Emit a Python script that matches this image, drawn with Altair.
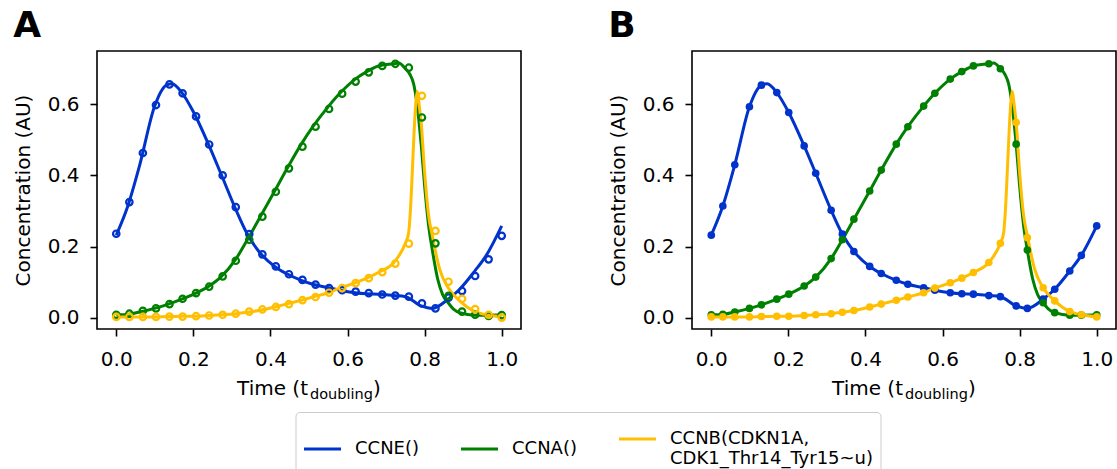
import altair as alt
import pandas as pd

# ---------------- data ----------------
species = ["CCNE()", "CCNA()", "CCNB(CDKN1A,|  CDK1_Thr14_Tyr15~u)"]
colors = ["#0033cc", "#008000", "#ffbf00"]

# Panel A markers (uniform sampling)
tA = [0.000, 0.034, 0.069, 0.103, 0.138, 0.172, 0.207, 0.241, 0.276, 0.310,
      0.345, 0.379, 0.414, 0.448, 0.483, 0.517, 0.552, 0.586, 0.621, 0.655,
      0.690, 0.724, 0.759, 0.793, 0.828, 0.862, 0.897, 0.931, 0.966, 1.000]
ccne_A = [0.236, 0.325, 0.463, 0.598, 0.656, 0.631, 0.566, 0.487, 0.400, 0.311,
          0.235, 0.178, 0.144, 0.122, 0.106, 0.093, 0.083, 0.077, 0.073, 0.069,
          0.065, 0.062, 0.059, 0.040, 0.026, 0.056, 0.075, 0.117, 0.164, 0.230]
ccna_A = [0.008, 0.011, 0.019, 0.026, 0.038, 0.053, 0.069, 0.087, 0.116, 0.160,
          0.219, 0.284, 0.354, 0.420, 0.481, 0.537, 0.587, 0.630, 0.664, 0.690,
          0.708, 0.714, 0.703, 0.563, 0.209, 0.061, 0.017, 0.008, 0.005, 0.007]
ccnb_A = [0.002, 0.002, 0.002, 0.002, 0.003, 0.003, 0.004, 0.006, 0.008, 0.011,
          0.017, 0.023, 0.030, 0.038, 0.049, 0.058, 0.070, 0.083, 0.097, 0.111,
          0.128, 0.152, 0.208, 0.624, 0.244, 0.101, 0.053, 0.024, 0.008, 0.000]

# Panel B markers (simulation output times)
tB = [0.000, 0.030, 0.061, 0.099, 0.130, 0.170, 0.201, 0.241, 0.271, 0.311,
      0.340, 0.370, 0.411, 0.441, 0.480, 0.510, 0.551, 0.580, 0.620, 0.650,
      0.680, 0.720, 0.750, 0.791, 0.820, 0.861, 0.891, 0.930, 0.960, 1.000]
ccne_B = [0.232, 0.314, 0.430, 0.593, 0.654, 0.633, 0.577, 0.483, 0.406, 0.302,
          0.235, 0.186, 0.144, 0.124, 0.105, 0.094, 0.084, 0.077, 0.070, 0.067,
          0.066, 0.062, 0.059, 0.033, 0.026, 0.052, 0.080, 0.131, 0.175, 0.258]
ccna_B = [0.008, 0.009, 0.016, 0.026, 0.036, 0.052, 0.066, 0.089, 0.114, 0.166,
          0.219, 0.277, 0.356, 0.415, 0.488, 0.537, 0.595, 0.631, 0.671, 0.692,
          0.708, 0.714, 0.700, 0.488, 0.190, 0.042, 0.014, 0.007, 0.007, 0.008]
ccnb_B = [0.002, 0.002, 0.002, 0.002, 0.003, 0.004, 0.004, 0.006, 0.008, 0.011,
          0.015, 0.020, 0.030, 0.038, 0.049, 0.058, 0.070, 0.083, 0.098, 0.111,
          0.127, 0.155, 0.209, 0.549, 0.225, 0.084, 0.047, 0.017, 0.008, 0.002]

# Model curves (same in both panels)
line_ccne_t = [0.000, 0.030, 0.061, 0.099, 0.130, 0.145, 0.170, 0.201, 0.241, 0.271,
               0.311, 0.340, 0.370, 0.411, 0.441, 0.480, 0.510, 0.551, 0.580, 0.620,
               0.650, 0.680, 0.720, 0.750, 0.791, 0.820, 0.861, 0.891, 0.930, 0.960, 1.000]
line_ccne_v = [0.232, 0.314, 0.430, 0.593, 0.654, 0.658, 0.633, 0.577, 0.483, 0.406,
               0.302, 0.235, 0.186, 0.144, 0.124, 0.105, 0.094, 0.084, 0.077, 0.070,
               0.067, 0.066, 0.062, 0.059, 0.033, 0.026, 0.052, 0.080, 0.131, 0.175, 0.258]
line_ccna_t = [0.000, 0.030, 0.061, 0.099, 0.130, 0.170, 0.201, 0.241, 0.271, 0.311,
               0.340, 0.370, 0.411, 0.441, 0.480, 0.510, 0.551, 0.580, 0.620, 0.650,
               0.680, 0.720, 0.733, 0.750, 0.762, 0.772, 0.779, 0.785, 0.791, 0.800,
               0.810, 0.820, 0.834, 0.847, 0.861, 0.875, 0.891, 0.930, 0.960, 1.000]
line_ccna_v = [0.008, 0.009, 0.016, 0.026, 0.036, 0.052, 0.066, 0.089, 0.114, 0.166,
               0.219, 0.277, 0.356, 0.415, 0.488, 0.537, 0.595, 0.631, 0.671, 0.692,
               0.708, 0.714, 0.716, 0.700, 0.684, 0.655, 0.610, 0.555, 0.488, 0.370,
               0.262, 0.190, 0.108, 0.064, 0.042, 0.024, 0.014, 0.007, 0.007, 0.008]
line_ccnb_t = [0.000, 0.030, 0.061, 0.099, 0.130, 0.170, 0.201, 0.241, 0.271, 0.311,
               0.340, 0.370, 0.411, 0.441, 0.480, 0.510, 0.551, 0.580, 0.620, 0.650,
               0.680, 0.720, 0.750, 0.758, 0.763, 0.768, 0.773, 0.778, 0.781, 0.785,
               0.791, 0.800, 0.810, 0.821, 0.839, 0.861, 0.891, 0.930, 0.960, 1.000]
line_ccnb_v = [0.002, 0.002, 0.002, 0.002, 0.003, 0.004, 0.004, 0.006, 0.008, 0.011,
               0.015, 0.020, 0.030, 0.038, 0.049, 0.058, 0.070, 0.083, 0.098, 0.111,
               0.127, 0.155, 0.209, 0.235, 0.300, 0.410, 0.530, 0.615, 0.636, 0.605,
               0.549, 0.408, 0.290, 0.225, 0.136, 0.084, 0.047, 0.017, 0.008, 0.002]

x_ticks = [0.0, 0.2, 0.4, 0.6, 0.8, 1.0]
y_ticks = [0.0, 0.2, 0.4, 0.6]

# ---------------- tables ----------------
def long_table(ts, series_list):
    rows = []
    for k, name in enumerate(species):
        t_k = ts[k] if isinstance(ts[0], list) else ts
        for t, v in zip(t_k, series_list[k]):
            rows.append({"t": t, "v": v, "species": name, "order": k})
    return pd.DataFrame(rows)

lines_df = long_table([line_ccne_t, line_ccna_t, line_ccnb_t],
                      [line_ccne_v, line_ccna_v, line_ccnb_v])
pts_A = long_table(tA, [ccne_A, ccna_A, ccnb_A])
pts_B = long_table(tB, [ccne_B, ccna_B, ccnb_B])

W, H = 424, 278
FONT = "DejaVu Sans"

xscale = alt.Scale(domain=[-0.05, 1.05], nice=False, zero=False)
yscale = alt.Scale(domain=[-0.032, 0.75], nice=False, zero=False)
cscale = alt.Scale(domain=species, range=colors)

xaxis = alt.Axis(title=None, values=x_ticks, format=".1f")
yaxis = alt.Axis(title="Concentration (AU)", values=y_ticks, format=".1f")

legend = alt.Legend(
    title=None, orient="none", legendX=198.5, legendY=361,
    direction="horizontal", columns=3,
    symbolType="stroke", symbolSize=1369, symbolStrokeWidth=3,
    labelFont=FONT, labelFontSize=18, labelColor="black",
    labelOffset=12.5, columnPadding=35, labelLimit=0,
    labelExpr="split(datum.label, '|')",
    strokeColor="#cccccc", fillColor="white", cornerRadius=4,
    padding=7, symbolOpacity=1,
)


def panel(pts, letter, filled):
    base_line = alt.Chart(lines_df).mark_line(strokeWidth=3, interpolate="monotone").encode(
        x=alt.X("t:Q", scale=xscale, axis=xaxis),
        y=alt.Y("v:Q", scale=yscale, axis=yaxis),
        color=alt.Color("species:N", scale=cscale, legend=legend, sort=species),
        order=alt.Order("t:Q"),
        detail="species:N",
    )
    if filled:
        pm = alt.Chart(pts).mark_point(filled=True, size=58, opacity=1)
    else:
        pm = alt.Chart(pts).mark_point(filled=False, size=42, strokeWidth=2.2, opacity=1)
    points = pm.encode(
        x=alt.X("t:Q", scale=xscale, axis=xaxis),
        y=alt.Y("v:Q", scale=yscale, axis=yaxis),
        color=alt.Color("species:N", scale=cscale, legend=None),
    )
    one = pd.DataFrame({"a": [0]})
    t1 = alt.Chart(one).mark_text(align="right", baseline="alphabetic", fontSize=20,
                                  font=FONT, color="black").encode(
        x=alt.value(211), y=alt.value(344), text=alt.value("Time (t"))
    t2 = alt.Chart(one).mark_text(align="left", baseline="alphabetic", fontSize=14.5,
                                  font=FONT, color="black").encode(
        x=alt.value(213), y=alt.value(348), text=alt.value("doubling"))
    t3 = alt.Chart(one).mark_text(align="left", baseline="alphabetic", fontSize=20,
                                  font=FONT, color="black").encode(
        x=alt.value(276), y=alt.value(344), text=alt.value(")"))
    return alt.layer(base_line, points, t1, t2, t3).properties(
        width=W, height=H,
        title=alt.TitleParams(letter, anchor="start", fontSize=36, fontWeight="bold",
                              font=FONT, color="black", dx=0, offset=6.5),
    )


chart = alt.hconcat(panel(pts_A, "A", False), panel(pts_B, "B", True), spacing=85).properties(
    padding={"left": 12, "top": 6, "right": 0, "bottom": 0}
).configure_view(stroke="black", strokeWidth=1.6).configure_axis(
    grid=False, domain=False,
    labelFont=FONT, labelFontSize=20, labelColor="black", labelPadding=11,
    tickColor="black", tickSize=7, tickWidth=1.6,
    titleFont=FONT, titleFontSize=20, titleFontWeight="normal", titleColor="black",
    titlePadding=14,
).configure_axisX(labelPadding=13.5)

chart.save("out.html", embed_options={"renderer": "svg", "actions": False})
